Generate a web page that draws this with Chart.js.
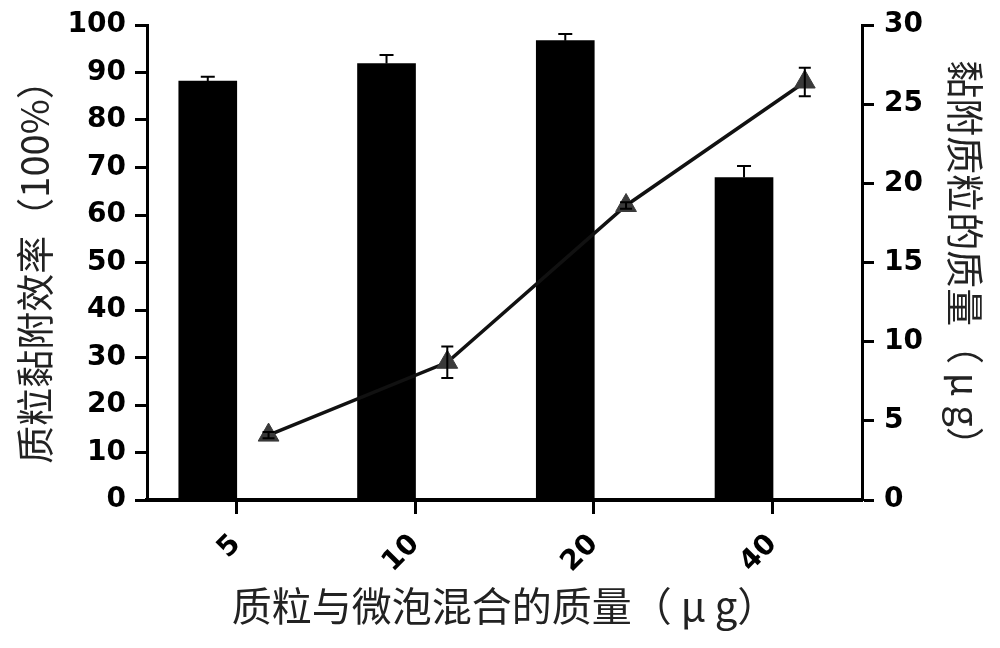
<!DOCTYPE html>
<html>
<head>
<meta charset="utf-8">
<script src="https://cdn.jsdelivr.net/npm/chart.js@4.4.1/dist/chart.umd.min.js"></script>
<style>
  html, body { margin: 0; padding: 0; background: #fff; }
  #wrap { width: 1000px; height: 648px; }
</style>
</head>
<body>
<div id="wrap"><canvas id="c" width="1000" height="648"></canvas></div>
<script>
// ---- data ----
const categories = ['5', '10', '20', '40'];
const efficiency = [88.2, 91.9, 96.7, 67.9];        // left axis, %
const efficiencyErr = [0.9, 1.8, 1.4, 2.4];
const adheredMass = [4.1, 8.7, 18.6, 26.4];          // right axis, µg
const adheredMassErr = [0.2, 1.0, 0.2, 0.9];
const leftTicks = { min: 0, max: 100, step: 10 };
const rightTicks = { min: 0, max: 30, step: 5 };

// ---- grouping (bar on the left of each tick, point on the right) ----
const BAR_SHIFT = -0.16;
const POINT_SHIFT = 0.18;

const tickFont = { family: 'DejaVu Sans', weight: 'bold', size: 28 };
const titleFont = { family: 'Noto Sans CJK SC', size: 38, lineHeight: 1.2 };

const errorBars = {
  id: 'errorBars',
  afterDatasetsDraw(chart) {
    const ctx = chart.ctx;
    chart.data.datasets.forEach((ds, di) => {
      if (!ds.errValues) return;
      const meta = chart.getDatasetMeta(di);
      const ys = chart.scales[meta.yAxisID];
      ctx.save();
      ctx.strokeStyle = '#000';
      ctx.lineWidth = 2;
      meta.data.forEach((el, i) => {
        const v = ds.baseValues[i], e = ds.errValues[i];
        const x = el.x;
        const yTop = ys.getPixelForValue(v + e);
        const yBot = ys.getPixelForValue(v - e);
        const half = ds.capHalf;
        ctx.beginPath();
        if (ds.upOnly) {
          ctx.moveTo(x, el.y); ctx.lineTo(x, yTop);
          ctx.moveTo(x - half, yTop); ctx.lineTo(x + half, yTop);
        } else {
          ctx.moveTo(x, yBot); ctx.lineTo(x, yTop);
          ctx.moveTo(x - half, yTop); ctx.lineTo(x + half, yTop);
          ctx.moveTo(x - half, yBot); ctx.lineTo(x + half, yBot);
        }
        ctx.stroke();
      });
      ctx.restore();
    });
  }
};

new Chart(document.getElementById('c'), {
  type: 'bar',
  data: {
    labels: categories,
    datasets: [
      {
        type: 'line',
        label: '黏附质粒的质量',
        data: adheredMass.map((v, i) => ({ x: i + POINT_SHIFT, y: v })),
        baseValues: adheredMass,
        errValues: adheredMassErr,
        capHalf: 6,
        upOnly: false,
        xAxisID: 'xg',
        yAxisID: 'y2',
        borderColor: '#111',
        borderWidth: 3.5,
        pointStyle: 'triangle',
        pointRadius: 12,
        pointBackgroundColor: '#3a3a3a',
        pointBorderColor: '#3a3a3a',
        pointBorderWidth: 1,
        tension: 0,
        order: 0
      },
      {
        type: 'bar',
        label: '质粒黏附效率',
        data: efficiency.map((v, i) => ({ x: i + BAR_SHIFT, y: v })),
        baseValues: efficiency,
        errValues: efficiencyErr,
        capHalf: 7,
        upOnly: true,
        xAxisID: 'xg',
        yAxisID: 'y',
        backgroundColor: '#000',
        borderWidth: 0,
        barThickness: 58,
        order: 1
      }
    ]
  },
  options: {
    responsive: false,
    devicePixelRatio: 1,
    animation: false,
    layout: { padding: { top: 25, left: 0, right: 0, bottom: 0 } },
    plugins: { legend: { display: false }, tooltip: { enabled: false } },
    scales: {
      x: {
        type: 'category',
        position: 'bottom',
        offset: true,
        grid: { display: true, drawOnChartArea: false, drawTicks: true, offset: false,
                tickLength: 14, tickWidth: 3, tickColor: '#000' },
        border: { display: true, width: 4, color: '#000' },
        ticks: { font: tickFont, color: '#000', minRotation: 45, maxRotation: 45, padding: 14 },
        title: { display: true, text: '质粒与微泡混合的质量（ μ g）', color: '#222',
                 font: { family: 'Noto Sans CJK SC', size: 40, lineHeight: 1.2 },
                 padding: { top: 0, bottom: 18 } },
        afterFit: s => { s.height = 148; s.paddingLeft = 0; s.paddingRight = 0; }
      },
      xg: {
        type: 'linear',
        display: false,
        min: -0.5,
        max: 3.5,
        offset: false
      },
      y: {
        position: 'left',
        min: leftTicks.min,
        max: leftTicks.max,
        grid: { display: true, drawOnChartArea: false, drawTicks: true,
                tickLength: 12, tickWidth: 3, tickColor: '#000' },
        border: { display: true, width: 3, color: '#000' },
        ticks: { stepSize: leftTicks.step, font: tickFont, color: '#000', padding: 9 },
        title: { display: true, text: '质粒黏附效率（100%）', color: '#222',
                 font: titleFont, padding: { top: 12, bottom: 0 } },
        afterFit: s => { s.width = 147; s.paddingTop = 0; s.paddingBottom = 0; }
      },
      y2: {
        position: 'right',
        min: rightTicks.min,
        max: rightTicks.max,
        grid: { display: true, drawOnChartArea: false, drawTicks: true,
                tickLength: 12, tickWidth: 3, tickColor: '#000' },
        border: { display: true, width: 3, color: '#000' },
        ticks: { stepSize: rightTicks.step, font: tickFont, color: '#000', padding: 10 },
        title: { display: true, text: '黏附质粒的质量（ μ g）', color: '#222',
                 font: titleFont, padding: { top: 12, bottom: 0 } },
        afterFit: s => { s.width = 138; s.paddingTop = 0; s.paddingBottom = 0; }
      }
    }
  },
  plugins: [errorBars]
});
</script>
</body>
</html>
